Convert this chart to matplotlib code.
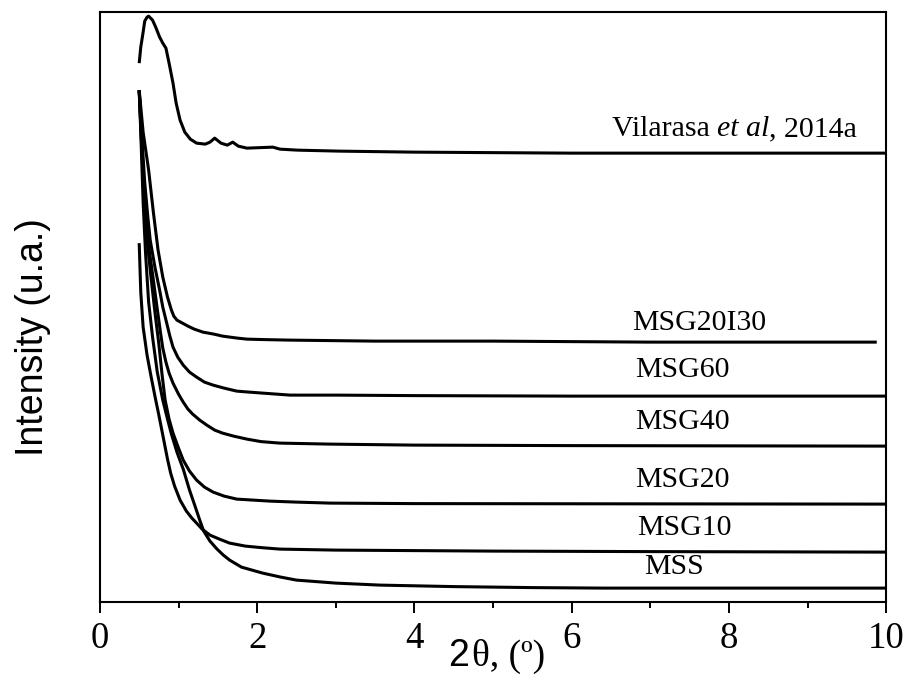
"""Low-angle XRD patterns of the MSS / MSG series."""

import matplotlib

matplotlib.use("Agg")
import matplotlib.pyplot as plt
from matplotlib.ticker import MultipleLocator

# 2theta (deg) and intensity (a.u., arbitrary offset per pattern)
vilarasa_x = [0.50, 0.52, 0.55, 0.57, 0.60, 0.62, 0.67, 0.71, 0.76, 0.80, 0.84, 0.88,
              0.93, 0.97, 1.02, 1.08, 1.15, 1.23, 1.34, 1.40, 1.46, 1.54, 1.62, 1.69,
              1.76, 1.87, 2.20, 2.29, 2.51, 3.05, 4.00, 6.00, 8.00, 10.00]
vilarasa_y = [539, 555, 570, 581, 585, 586, 582, 575, 565, 559, 554, 539,
              519, 499, 482, 470, 463, 459, 458, 460, 464, 459, 457, 460,
              456, 454, 455, 453, 452, 451, 450, 449, 449, 449]

msg20i30_x = [0.50, 0.55, 0.62, 0.68, 0.74, 0.80, 0.86, 0.91, 0.94, 0.98, 1.05, 1.12,
              1.20, 1.31, 1.45, 1.56, 1.75, 1.87, 2.10, 2.42, 3.50, 5.00, 7.00, 8.50, 9.88]
msg20i30_y = [512, 470, 432, 390, 352, 325, 305, 292, 286, 282, 279, 276,
              273, 270, 268, 266, 264, 263, 262.5, 262, 261, 261, 260, 260, 260]

msg60_x = [0.50, 0.53, 0.57, 0.61, 0.64, 0.70, 0.76, 0.80, 0.85, 0.89, 0.93, 0.99, 1.06,
           1.14, 1.23, 1.33, 1.44, 1.58, 1.74, 1.90, 2.07, 2.42, 3.00, 4.00, 6.00, 10.00]
msg60_y = [512, 470, 420, 385, 362, 335, 312, 295, 279, 266, 255, 245, 237,
           230, 225, 220, 217, 214, 211, 210, 209, 207, 207, 206.5, 206, 206]

msg40_x = [0.50, 0.53, 0.57, 0.61, 0.67, 0.73, 0.77, 0.80, 0.84, 0.88, 0.93, 1.00, 1.06,
           1.12, 1.18, 1.27, 1.36, 1.46, 1.56, 1.70, 1.87, 2.05, 2.29, 2.93, 4.00, 6.00, 10.00]
msg40_y = [512, 460, 400, 362, 328, 293, 270, 254, 240, 229, 219, 208, 200,
           193, 188, 182, 177, 172, 169, 166, 163, 160.5, 159, 158, 157, 156.5, 156]

msg20_x = [0.50, 0.53, 0.56, 0.60, 0.65, 0.70, 0.75, 0.79, 0.83, 0.88, 0.93, 1.00, 1.06,
           1.14, 1.23, 1.33, 1.44, 1.58, 1.74, 1.95, 2.16, 2.50, 2.93, 4.00, 10.00]
msg20_y = [512, 460, 410, 362, 325, 290, 258, 228, 202, 183, 169, 154, 142,
           131, 122, 115, 110, 106, 103, 102, 101, 100, 99, 98.5, 98]

msg10_x = [0.50, 0.52, 0.55, 0.60, 0.65, 0.70, 0.75, 0.79, 0.83, 0.86, 0.90, 0.95, 1.02,
           1.10, 1.17, 1.23, 1.30, 1.40, 1.52, 1.65, 1.85, 2.05, 2.29, 3.00, 5.00, 7.00, 10.00]
msg10_y = [359, 310, 275, 247, 226, 206, 187, 171, 155, 143, 129, 116, 102,
           91, 84, 79, 73, 67, 63, 59, 56, 54.5, 53, 52, 51, 50.5, 50]

mss_x = [0.50, 0.52, 0.55, 0.58, 0.62, 0.67, 0.73, 0.80, 0.86, 0.91, 0.98, 1.06, 1.14,
         1.21, 1.27, 1.32, 1.40, 1.49, 1.57, 1.65, 1.80, 2.07, 2.30, 2.50, 3.00, 3.56,
         4.50, 5.50, 6.40, 8.00, 10.00]
mss_y = [512, 470, 400, 350, 300, 265, 230, 202, 183, 168, 150, 133, 112,
         96, 82, 71, 61, 53, 47, 42, 35, 29, 25, 22, 19, 17,
         15.5, 14.5, 14, 14, 14]

series = [
    (vilarasa_x, vilarasa_y),
    (msg20i30_x, msg20i30_y),
    (msg60_x, msg60_y),
    (msg40_x, msg40_y),
    (msg20_x, msg20_y),
    (msg10_x, msg10_y),
    (mss_x, mss_y),
]

sample_labels = ["MSG20I30", "MSG60", "MSG40", "MSG20", "MSG10", "MSS"]
label_x = [6.77, 6.81, 6.81, 6.81, 6.83, 6.92]
label_y = [279, 232, 180, 122, 74, 35]

x_ticks = [0, 2, 4, 6, 8, 10]

SERIF = "Liberation Serif"
SANS = "Liberation Sans"

fig = plt.figure(figsize=(9.08, 6.75), dpi=100)
ax = fig.add_axes([0.110, 0.108, 0.866, 0.874])

for xs, ys in series:
    ax.plot(xs, ys, color="black", lw=2.2, solid_joinstyle="round", solid_capstyle="butt")

for text, tx, ty in zip(sample_labels, label_x, label_y):
    ax.text(tx, ty, text, fontsize=21.5, family=SERIF, ha="left", va="center")

ref = ax.text(6.51, 473, "Vilarasa ", fontsize=21.5, family=SERIF, ha="left", va="center")
ref2 = ax.annotate("et al", xy=(1, 0), xycoords=ref, fontsize=21.5, family=SERIF,
                   style="italic", ha="left", va="bottom")
ax.annotate(", 2014a", xy=(1, 0), xycoords=ref2, fontsize=21.5, family=SERIF,
            ha="left", va="bottom")

ax.set_xlim(0, 10)
ax.set_ylim(0, 590)
ax.set_xticks(x_ticks)
ax.set_xticklabels([str(t) for t in x_ticks], family=SERIF, fontsize=26.5)
ax.xaxis.set_minor_locator(MultipleLocator(1))
ax.set_yticks([])
ax.tick_params(axis="x", which="major", direction="out", length=8, width=1.4, pad=6)
ax.tick_params(axis="x", which="minor", direction="out", length=4.5, width=1.4)
for side in ax.spines.values():
    side.set_linewidth(1.5)

fig.text(33 / 908, 1 - 337 / 675, "Intensity (u.a.)", family=SANS, fontsize=27,
         rotation=90, ha="center", va="center")

two = fig.text(448 / 908, 1 - 666 / 675, "2", family=SANS, fontsize=27, va="baseline")
ax.annotate("\u03b8, (\u00ba)", xy=(1, 0), xycoords=two, xytext=(2, 0),
            textcoords="offset points", family=SERIF, fontsize=27, va="bottom")

fig.savefig("out.png", dpi=100)
